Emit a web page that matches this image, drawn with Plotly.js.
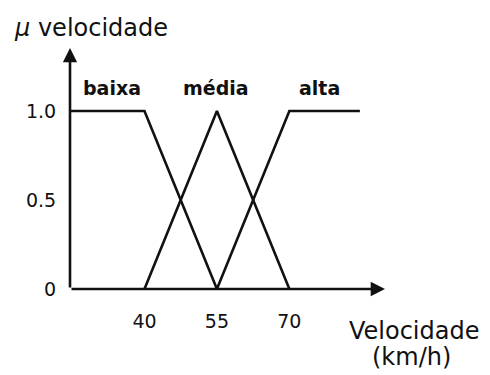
<!DOCTYPE html>
<html><head><meta charset="utf-8">
<script src="https://cdn.plot.ly/plotly-3.0.1.min.js"></script>
<style>html,body{margin:0;padding:0;background:#fff}#c{width:490px;height:375px}</style>
</head><body><div id="c"></div>
<script>
var setNames = ["baixa", "média", "alta"];
var baixaX = [24.6, 40, 55];
var baixaY = [1, 1, 0];
var mediaX = [40, 55, 70];
var mediaY = [0, 1, 0];
var altaX = [55, 70, 84.6];
var altaY = [0, 1, 1];
var labelX = [33.3, 54.8, 76.2];
var xTicks = [40, 55, 70];
var xTickText = ["40", "55", "70"];
var yTicks = [0, 0.5, 1];
var yTickText = ["0", "0.5", "1.0"];

var X0 = 24.58, XMAX = 89.8, YMAX = 1.354;
var FONT = "DejaVu Sans, Liberation Sans, Arial";
var lineStyle = {color: "#111", width: 2.6};
var traces = [
  {x: baixaX, y: baixaY, mode: "lines", line: lineStyle, hoverinfo: "skip"},
  {x: mediaX, y: mediaY, mode: "lines", line: lineStyle, hoverinfo: "skip"},
  {x: altaX, y: altaY, mode: "lines", line: lineStyle, hoverinfo: "skip"}
];
var W = 490, H = 375, L = 70, R = 105, T = 48, B = 86;
function px(x){ return (x - L) / (W - L - R); }
function py(y){ return 1 - (y - T) / (H - T - B); }
var ann = [];
for (var i = 0; i < setNames.length; i++) {
  ann.push({x: labelX[i], y: 1.13, xref: "x", yref: "y", text: "<b>" + setNames[i] + "</b>",
    showarrow: false, yanchor: "middle", font: {family: FONT, size: 19, color: "#111"}});
}
// axis arrows
ann.push({x: XMAX, y: 0, ax: X0, ay: 0, xref: "x", yref: "y", axref: "x", ayref: "y",
  showarrow: true, arrowhead: 2, arrowsize: 1.1, arrowwidth: 2.6, arrowcolor: "#111", text: "", standoff: 0});
ann.push({x: X0, y: YMAX, ax: X0, ay: 0, xref: "x", yref: "y", axref: "x", ayref: "y",
  showarrow: true, arrowhead: 2, arrowsize: 1.1, arrowwidth: 2.6, arrowcolor: "#111", text: "", standoff: 0});
ann.push({x: px(12), y: py(28), xref: "paper", yref: "paper", text: "<i>μ</i> velocidade", showarrow: false,
  xanchor: "left", yanchor: "middle", font: {family: FONT, size: 24, color: "#111"}});
ann.push({x: px(414), y: py(331), xref: "paper", yref: "paper", text: "Velocidade", showarrow: false,
  xanchor: "center", yanchor: "middle", font: {family: FONT, size: 24, color: "#111"}});
ann.push({x: px(411), y: py(357), xref: "paper", yref: "paper", text: "(km/h)", showarrow: false,
  xanchor: "center", yanchor: "middle", font: {family: FONT, size: 24, color: "#111"}});
var layout = {
  width: W, height: H,
  margin: {l: L, r: R, t: T, b: B, pad: 0},
  paper_bgcolor: "#fff", plot_bgcolor: "#fff",
  showlegend: false,
  xaxis: {range: [X0, XMAX], tickvals: xTicks, ticktext: xTickText, showgrid: false, zeroline: false,
    showline: false, ticks: "outside", ticklen: 15, tickcolor: "rgba(0,0,0,0)",
    tickfont: {family: FONT, size: 19, color: "#111"}, fixedrange: true},
  yaxis: {range: [0, YMAX], tickvals: yTicks, ticktext: yTickText, showgrid: false, zeroline: false,
    showline: false, ticks: "outside", ticklen: 9, tickcolor: "rgba(0,0,0,0)",
    tickfont: {family: FONT, size: 19, color: "#111"}, fixedrange: true},
  annotations: ann
};
Plotly.newPlot("c", traces, layout, {displayModeBar: false, staticPlot: true});
</script></body></html>
